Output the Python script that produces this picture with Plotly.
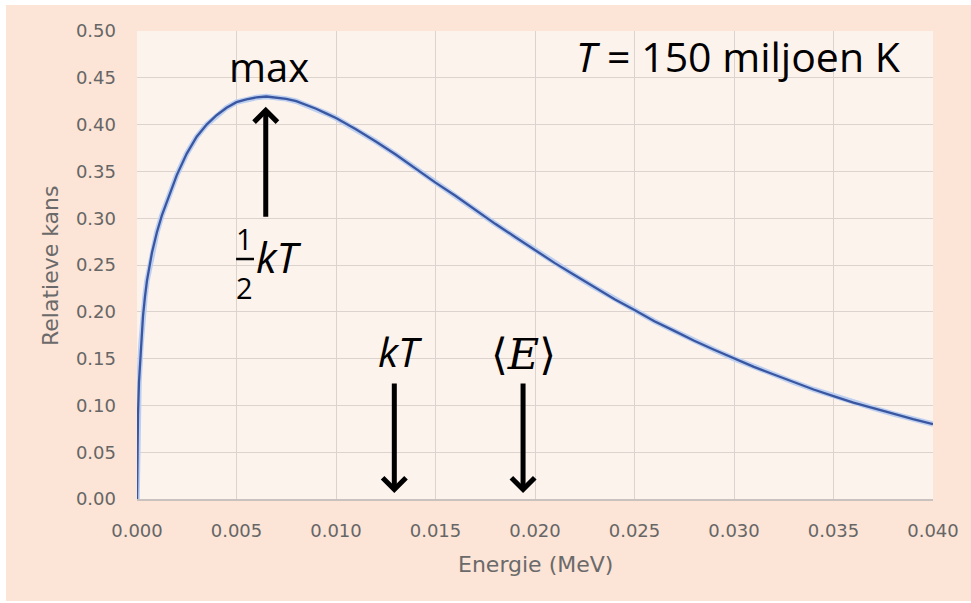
import plotly.graph_objects as go

# Energy (MeV) and relative probability
energy = [0.0, 0.00002, 0.00005, 0.0001, 0.0002, 0.0003, 0.0004, 0.0005, 0.00075, 0.001,
          0.00125, 0.0015, 0.002, 0.0025, 0.003, 0.0035, 0.004, 0.0045, 0.005, 0.0055,
          0.006, 0.0065, 0.007, 0.0075, 0.008, 0.0085, 0.009, 0.0095, 0.010, 0.011,
          0.012, 0.013, 0.014, 0.015, 0.016, 0.017, 0.018, 0.019, 0.020, 0.021,
          0.022, 0.023, 0.024, 0.025, 0.026, 0.027, 0.028, 0.029, 0.030, 0.031,
          0.032, 0.033, 0.034, 0.035, 0.036, 0.037, 0.038, 0.039, 0.040]
kans = [0.000, 0.060, 0.090, 0.125, 0.165, 0.195, 0.216, 0.233, 0.263, 0.285,
        0.303, 0.318, 0.346, 0.369, 0.387, 0.400, 0.410, 0.418, 0.424, 0.427,
        0.429, 0.430, 0.429, 0.4275, 0.425, 0.421, 0.417, 0.412, 0.407, 0.395,
        0.382, 0.368, 0.353, 0.338, 0.324, 0.309, 0.294, 0.280, 0.266, 0.252,
        0.239, 0.226, 0.2135, 0.202, 0.190, 0.1796, 0.169, 0.1594, 0.150, 0.1412,
        0.133, 0.1248, 0.117, 0.110, 0.103, 0.097, 0.091, 0.0853, 0.080]

# Marked energies (MeV)
half_kT = 0.00647
kT = 0.01293
E_mean = 0.0194

x_ticks = [0.000, 0.005, 0.010, 0.015, 0.020, 0.025, 0.030, 0.035, 0.040]
y_ticks = [0.00, 0.05, 0.10, 0.15, 0.20, 0.25, 0.30, 0.35, 0.40, 0.45, 0.50]

fig = go.Figure()
fig.add_trace(go.Scatter(x=energy, y=kans, mode="lines",
                         line=dict(color="#bccff0", width=5.5, shape="linear"),
                         hoverinfo="skip", showlegend=False))
fig.add_trace(go.Scatter(x=energy, y=kans, mode="lines",
                         line=dict(color="#3a56a0", width=2.3, shape="linear"),
                         showlegend=False))

big = dict(family="Open Sans", size=40, color="black")
ann = []
# text labels
ann.append(dict(x=0.00663, y=0.4626, xref="x", yref="y", text="max", showarrow=False,
                font=big, xanchor="center", yanchor="middle"))
ann.append(dict(x=0.03022, y=0.473, xref="x", yref="y", text="<i>T</i> = 150 miljoen K",
                showarrow=False, font=dict(family="Open Sans", size=41, color="black"),
                xanchor="center", yanchor="middle"))
ann.append(dict(x=0.01322, y=0.158, xref="x", yref="y", text="<i>kT</i>", showarrow=False,
                font=dict(family="Open Sans", size=41, color="black"),
                xanchor="center", yanchor="middle"))
ann.append(dict(x=0.0194, y=0.155, xref="x", yref="y", text="⟨<i>E</i>⟩", showarrow=False,
                font=dict(family="DejaVu Serif", size=43, color="black"),
                xanchor="center", yanchor="middle"))
ann.append(dict(x=0.00540, y=0.2780, xref="x", yref="y", text="1", showarrow=False,
                font=dict(family="Open Sans", size=29, color="black"),
                xanchor="center", yanchor="middle"))
ann.append(dict(x=0.00540, y=0.2265, xref="x", yref="y", text="2", showarrow=False,
                font=dict(family="Open Sans", size=29, color="black"),
                xanchor="center", yanchor="middle"))
ann.append(dict(x=0.00714, y=0.2596, xref="x", yref="y", text="<i>kT</i>", showarrow=False,
                font=dict(family="Open Sans", size=42, color="black"),
                xanchor="center", yanchor="middle"))
# arrows
for xa, y_tail, y_tip in [(half_kT, 0.300, 0.419), (kT, 0.125, 0.0064), (E_mean, 0.125, 0.0064)]:
    ann.append(dict(x=xa, y=y_tip, ax=xa, ay=y_tail, xref="x", yref="y", axref="x", ayref="y",
                    text="", showarrow=True, arrowhead=4, arrowsize=0.9, arrowwidth=5,
                    arrowcolor="black", standoff=0, startstandoff=0))
# axis titles
ann.append(dict(x=0.5, y=-0.141, xref="paper", yref="paper", text="Energie (MeV)",
                showarrow=False, font=dict(family="DejaVu Sans", size=22, color="#6a6a6a"),
                xanchor="center", yanchor="middle"))
ann.append(dict(x=-0.1093, y=0.5, xref="paper", yref="paper", text="Relatieve kans",
                showarrow=False, textangle=-90,
                font=dict(family="DejaVu Sans", size=22, color="#6a6a6a"),
                xanchor="center", yanchor="middle"))

shapes = [
    dict(type="line", xref="x", yref="y", x0=0.00498, x1=0.00588, y0=0.2564, y1=0.2564,
         line=dict(color="black", width=2.5)),
    # thin white page border strips (top / left / bottom)
    dict(type="rect", xref="paper", yref="paper", x0=-0.2, x1=1.1, y0=1.0556, y1=1.08,
         fillcolor="white", line=dict(width=0), layer="below"),
    dict(type="rect", xref="paper", yref="paper", x0=-0.2, x1=-0.1646, y0=-0.3, y1=1.1,
         fillcolor="white", line=dict(width=0), layer="below"),
    dict(type="rect", xref="paper", yref="paper", x0=-0.2, x1=1.1, y0=-0.25, y1=-0.2179,
         fillcolor="white", line=dict(width=0), layer="below"),
]

tickfont = dict(family="DejaVu Sans", size=18, color="#666666")
fig.update_layout(
    width=971, height=603,
    margin=dict(l=137, r=38, t=31, b=104),
    paper_bgcolor="#fce4d6",
    plot_bgcolor="#fdf3ed",
    annotations=ann,
    shapes=shapes,
    xaxis=dict(range=[0, 0.040], tickvals=x_ticks, tickformat=".3f",
               showgrid=True, gridcolor="#dcd3ce", gridwidth=1, zeroline=False,
               showline=True, linecolor="#c9c2be", linewidth=1.5,
               tickfont=tickfont, ticks="", ticklabelstandoff=15, fixedrange=True),
    yaxis=dict(range=[0, 0.50], tickvals=y_ticks, tickformat=".2f",
               showgrid=True, gridcolor="#dcd3ce", gridwidth=1, zeroline=False,
               showline=False, tickfont=tickfont, ticks="", ticklabelstandoff=20,
               fixedrange=True),
)

fig.write_html("out.html", post_script="document.body.style.margin='0';",
               config={"displayModeBar": False})
